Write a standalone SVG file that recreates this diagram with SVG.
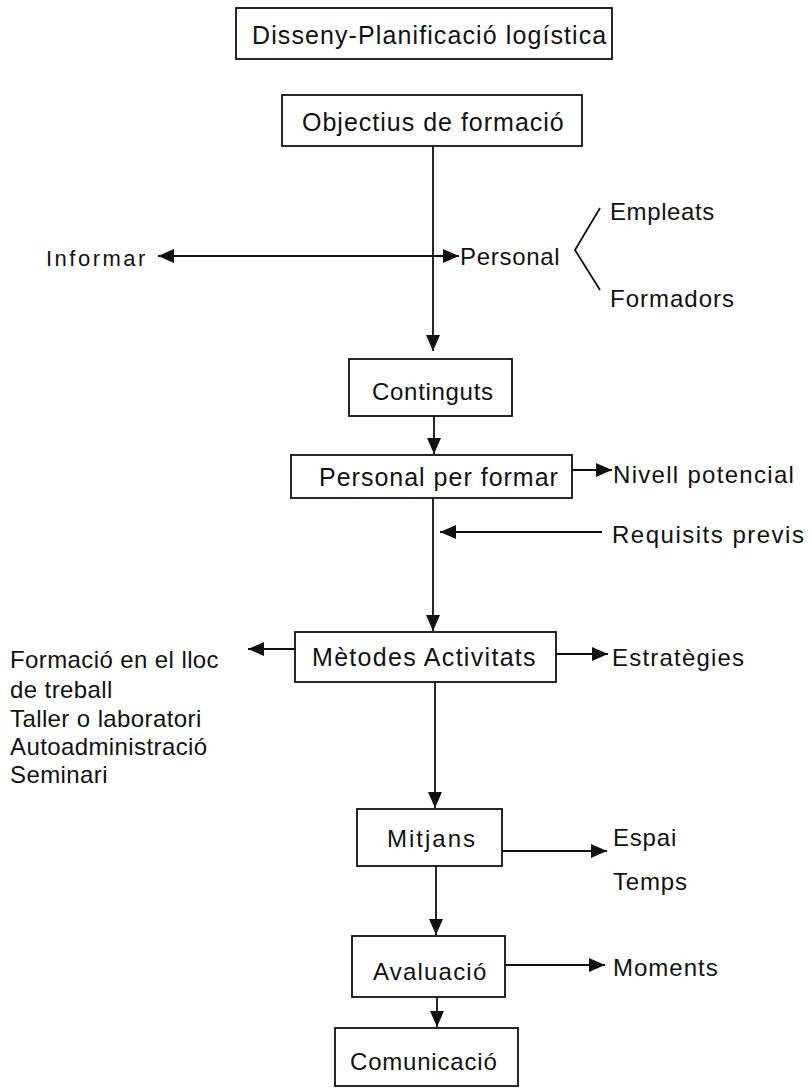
<svg xmlns="http://www.w3.org/2000/svg" width="812" height="1088" viewBox="0 0 812 1088">
<style>
.box{fill:#fff;stroke:#111;stroke-width:1.8}
.t{font-family:"Liberation Sans",Arial,Helvetica,sans-serif;font-size:24px;fill:#111}
.c{stroke:#111;stroke-width:1.8;fill:none}
.a{marker-end:url(#ah)}
</style>
<defs>
<marker id="ah" viewBox="0 0 16 14" refX="16" refY="7" markerWidth="16" markerHeight="14" markerUnits="userSpaceOnUse" orient="auto-start-reverse">
<path d="M0,0 L16,7 L0,14 z" fill="#111"/>
</marker>
</defs>
<rect width="812" height="1088" fill="#fff"/>
<g id="connectors">
<line class="c a" x1="433" y1="146" x2="433" y2="351"/>
<line class="c a" x1="300" y1="256" x2="158" y2="256"/>
<line class="c a" x1="300" y1="256" x2="459" y2="256"/>
<line class="c a" x1="434" y1="416" x2="434" y2="454"/>
<line class="c a" x1="572" y1="470" x2="612" y2="470"/>
<line class="c a" x1="433" y1="498" x2="433" y2="631"/>
<line class="c a" x1="602" y1="532" x2="440" y2="532"/>
<line class="c a" x1="295" y1="649" x2="248" y2="649"/>
<line class="c a" x1="556" y1="654" x2="608" y2="654"/>
<line class="c a" x1="435" y1="682" x2="435" y2="808"/>
<line class="c a" x1="502" y1="851" x2="607" y2="851"/>
<line class="c a" x1="436" y1="866" x2="436" y2="935"/>
<line class="c a" x1="505" y1="965" x2="605" y2="965"/>
<line class="c a" x1="437" y1="997" x2="437" y2="1027"/>
<polyline class="c" points="600,208 575,250 600,290"/>
</g>
<g id="n-disseny">
<rect class="box" x="236" y="8" width="376" height="51"/>
<text class="t" x="252" y="44" style="font-size:25px;letter-spacing:1.1px">Disseny-Planificació logística</text>
</g>
<g id="n-objectius">
<rect class="box" x="282" y="95" width="300" height="51"/>
<text class="t" x="302" y="131" style="font-size:25px;letter-spacing:1px">Objectius de formació</text>
</g>
<g id="n-informar">
<text class="t" x="46" y="266" style="font-size:22px;letter-spacing:2.5px">Informar</text>
</g>
<g id="n-personal">
<text class="t" x="460" y="265" style="letter-spacing:0.7px">Personal</text>
</g>
<g id="n-empleats">
<text class="t" x="610" y="220" style="letter-spacing:0.6px">Empleats</text>
</g>
<g id="n-formadors">
<text class="t" x="610" y="307" style="letter-spacing:1px">Formadors</text>
</g>
<g id="n-continguts">
<rect class="box" x="349" y="359" width="163" height="57"/>
<text class="t" x="372" y="400" style="letter-spacing:0.7px">Continguts</text>
</g>
<g id="n-personal-formar">
<rect class="box" x="291" y="455" width="281" height="43"/>
<text class="t" x="319" y="486" style="font-size:25px;letter-spacing:1px">Personal per formar</text>
</g>
<g id="n-nivell">
<text class="t" x="613" y="483" style="letter-spacing:1.3px">Nivell potencial</text>
</g>
<g id="n-requisits">
<text class="t" x="612" y="543" style="letter-spacing:1.5px">Requisits previs</text>
</g>
<g id="n-metodes">
<rect class="box" x="295" y="632" width="261" height="50"/>
<text class="t" x="312" y="666" style="font-size:25px;letter-spacing:1.3px">Mètodes Activitats</text>
</g>
<g id="n-estrategies">
<text class="t" x="612" y="666" style="letter-spacing:1.2px">Estratègies</text>
</g>
<g id="n-formacio-llista">
<text class="t" x="10" y="668" style="letter-spacing:0.4px">Formació en el lloc</text>
<text class="t" x="10" y="698" style="letter-spacing:0.4px">de treball</text>
<text class="t" x="10" y="727" style="letter-spacing:0.4px">Taller o laboratori</text>
<text class="t" x="10" y="755" style="letter-spacing:0.4px">Autoadministració</text>
<text class="t" x="10" y="783" style="letter-spacing:0.4px">Seminari</text>
</g>
<g id="n-mitjans">
<rect class="box" x="357" y="809" width="145" height="57"/>
<text class="t" x="387" y="847" style="letter-spacing:2px">Mitjans</text>
</g>
<g id="n-espai">
<text class="t" x="613" y="846" style="letter-spacing:0.8px">Espai</text>
</g>
<g id="n-temps">
<text class="t" x="613" y="890" style="letter-spacing:0.8px">Temps</text>
</g>
<g id="n-avaluacio">
<rect class="box" x="352" y="936" width="153" height="61"/>
<text class="t" x="373" y="980" style="letter-spacing:1.2px">Avaluació</text>
</g>
<g id="n-moments">
<text class="t" x="613" y="976" style="letter-spacing:1px">Moments</text>
</g>
<g id="n-comunicacio">
<rect class="box" x="335" y="1028" width="183" height="58"/>
<text class="t" x="350" y="1070" style="letter-spacing:0.8px">Comunicació</text>
</g>
</svg>
